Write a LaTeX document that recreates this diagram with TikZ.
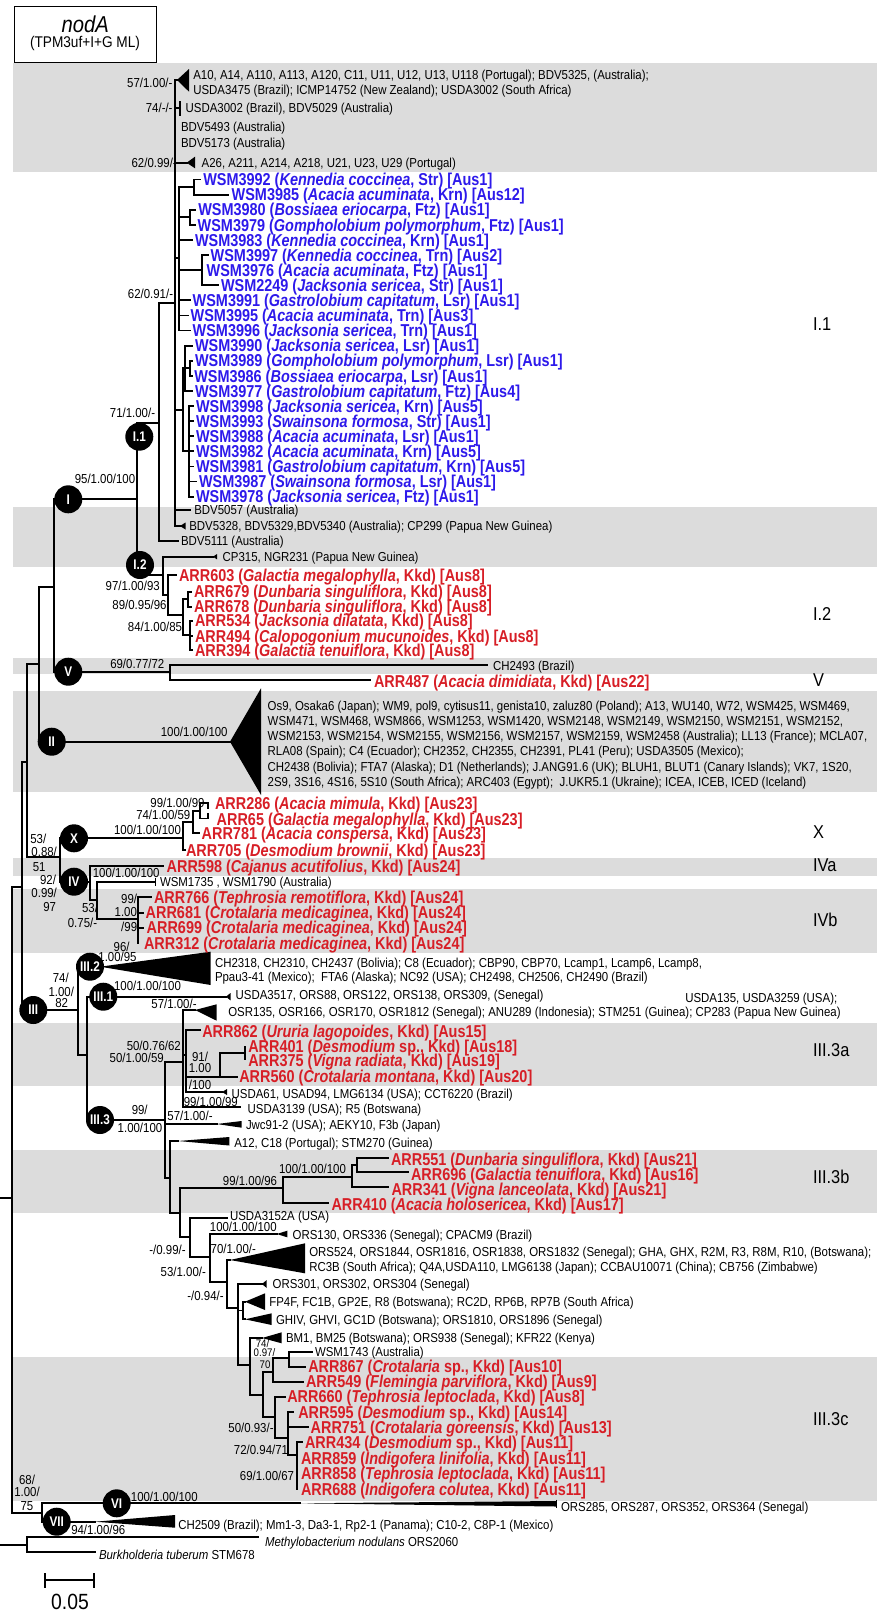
\documentclass[tikz,border=0pt]{standalone}
\usepackage{fontspec}
\setmainfont{Liberation Sans}[FakeStretch=0.88]
\newfontfamily\bfam{Liberation Sans}[FakeStretch=0.84]
\definecolor{bandgray}{RGB}{220,220,220}
\definecolor{tblue}{RGB}{45,25,235}
\definecolor{tred}{RGB}{215,30,38}
\newcounter{nn}
\tikzset{
 br/.style={line width=1.8pt, line cap=rect},
 txt/.style={anchor=base west, inner sep=0pt, outer sep=0pt, font=\fontsize{13}{15}\selectfont},
 btxt/.style={anchor=base west, inner sep=0pt, outer sep=0pt, font=\bfam\bfseries\fontsize{17.2}{15}\selectfont},
 lab/.style={anchor=base, inner sep=0pt, outer sep=0pt, font=\fontsize{13}{15}\selectfont},
 clab/.style={anchor=base west, inner sep=0pt, outer sep=0pt, font=\fontsize{18.6}{20}\selectfont},
 circ/.style={circle, fill=black, minimum size=28pt, inner sep=0pt, text=white, font=\bfam\bfseries\fontsize{14}{14}\selectfont},
}
\newcommand{\Hl}[3]{\draw[br] (#1,#2) -- (#3,#2);}
\newcommand{\Vl}[3]{\draw[br] (#1,#2) -- (#1,#3);}
\newcommand{\Tri}[5]{\fill (#1,#2) -- (#3,#4) -- (#3,#5) -- cycle;}
\newcommand{\Cc}[3]{\stepcounter{nn}\node[circ] (c\thenn) at (#1,#2) {#3};}
\newcommand{\Tx}[3]{\stepcounter{nn}\node[txt] (t\thenn) at (#1,#2+4.6) {#3};}
\newcommand{\Lb}[3]{\stepcounter{nn}\node[lab] (l\thenn) at (#1,#2+4.6) {#3};}
\newcommand{\Bt}[4]{\stepcounter{nn}\node[btxt,text=#1] (b\thenn) at (#2,#3+6.2) {#4};}
\newcommand{\Ws}[6]{\Bt{tblue}{#1}{#2}{WSM#3 (\textit{#4}, #5) [#6]}}
\newcommand{\Ar}[5]{\Bt{tred}{#1}{#2}{ARR#3 (#4, Kkd) [#5]}}
\newcommand{\Cl}[3]{\stepcounter{nn}\node[clab] (k\thenn) at (#1,#2+6.7) {#3};}
\begin{document}
\begin{tikzpicture}[x=1pt,y=-1pt]
\useasboundingbox (0,0) rectangle (877,1614);
% grey bands
\fill[bandgray] (13,63.3) rectangle (877,171.7);
\fill[bandgray] (13,506.7) rectangle (877,566.7);
\fill[bandgray] (13,657.7) rectangle (877,674);
\fill[bandgray] (13,690.7) rectangle (877,791.7);
\fill[bandgray] (13,858.3) rectangle (877,875.7);
\fill[bandgray] (13,889) rectangle (877,952.7);
\fill[bandgray] (13,1022.7) rectangle (877,1085.7);
\fill[bandgray] (13,1150) rectangle (877,1212.7);
\fill[bandgray] (13,1357.3) rectangle (877,1500.7);
% title
\draw[line width=1pt] (14,6) rectangle (156.7,62.7);
\node[inner sep=0pt,font=\itshape\fontsize{23}{23}\selectfont] (ttl) at (85.3,24) {nodA};
\node[inner sep=0pt,font=\fontsize{15.5}{16}\selectfont] (ttl2) at (85,43.5) {(TPM3uf+I+G ML)};
% backbone
\Hl{0}{1198.3}{11.7}
\Vl{11.7}{886.7}{1513}
\Hl{11.7}{886.7}{21.7}
\Vl{21.7}{761.7}{1010}
\Hl{21.7}{761.7}{26.7}
\Vl{26.7}{664}{856.7}
\Hl{26.7}{664}{39.3}
\Vl{39.3}{586.7}{741.7}
\Hl{39.3}{586.7}{54.3}
\Vl{54.3}{499.3}{671.7}
\Hl{54.3}{499.3}{137.3}
\Hl{54.3}{671.7}{170}
\Hl{39.3}{741.7}{230}
\Hl{26.7}{856.7}{60}
\Vl{60}{838.3}{881.7}
\Hl{60}{838.3}{183.3}
\Hl{60}{881.7}{90}
\Hl{21.7}{1010}{78.3}
\Hl{11.7}{1513}{41.7}
\Vl{41.7}{1503.3}{1521.7}
\Hl{41.7}{1503.3}{300}
\Tri{300}{1503.3}{556}{1501}{1506.5}
\draw[line width=1pt] (556,1499.5) -- (556,1508);
\Hl{41.7}{1521.7}{95}
\Tri{95}{1521.7}{175}{1515}{1527.7}
\Hl{0}{1545}{27}
\Vl{27}{1536.7}{1552.3}
\Hl{27}{1536.7}{258.3}
\Hl{27}{1552.3}{95}
% I clade
\Vl{137.3}{422.7}{575}
\Hl{137.3}{422.7}{159.3}
\Vl{159.3}{303.3}{540.7}
\Hl{159.3}{303.3}{175}
\Hl{159.3}{540.7}{178.3}
\Vl{175}{80}{526}
\Hl{175}{80}{178}
\Tri{177}{80}{189}{69}{91.7}
\Hl{175}{108.3}{180}
\draw[line width=1.4pt] (180,101) -- (180,115.5);
\Hl{175}{162.7}{187}
\Tri{186.7}{162.7}{195}{156.7}{168.3}
\Hl{175}{510}{190}
\Hl{175}{526}{180}
\Tri{180}{526}{185.5}{522.5}{529.5}
% blue WSM clade
\Hl{175}{258}{179}
\Vl{179}{187}{330.5}
\Hl{179}{187}{194.3}
\Vl{194.3}{179.5}{194.6}
\Hl{194.3}{179.5}{200}
\Hl{194.3}{194.6}{228.5}
\Hl{179}{217.2}{190}
\Vl{190}{209.7}{224.8}
\Hl{190}{209.7}{195.5}
\Hl{190}{224.8}{195}
\Hl{179}{239.9}{192.5}
\Hl{179}{270}{201.7}
\Vl{201.7}{255}{285.2}
\Hl{201.7}{255}{208}
\Hl{201.7}{285.2}{218.5}
\Hl{179}{300.3}{190}
\Hl{179}{315.4}{188}
\Hl{179}{330.5}{190}
\Hl{175}{410}{182.7}
\Vl{182.7}{368.2}{451.3}
\Hl{182.7}{368.2}{185}
\Vl{185}{345.6}{390.9}
\Hl{185}{345.6}{192.5}
\Hl{185}{368.2}{190}
\Vl{190}{360.7}{375.8}
\Hl{190}{360.7}{192.5}
\Hl{190}{375.8}{192}
\Hl{185}{390.9}{192.5}
\Hl{182.7}{451.3}{189}
\Vl{189}{406}{496.6}
\Hl{189}{406}{193.5}
\Hl{189}{421.1}{193.5}
\Hl{189}{436.2}{193.5}
\Hl{189}{451.3}{193.5}
\Hl{189}{466.4}{193.5}
\Hl{189}{481.5}{196.5}
\Hl{189}{496.6}{193.5}
% I.2 clade
\Hl{137.3}{575}{163.3}
\Vl{163.3}{556.7}{595}
\Hl{163.3}{556.7}{213}
\Tri{213}{556.7}{217}{554}{559.4}
\Hl{163.3}{595}{168.3}
\Vl{168.3}{575}{615}
\Hl{168.3}{575}{176.5}
\Hl{168.3}{615}{183.3}
\Vl{183.3}{599}{635}
\Hl{183.3}{599}{187.7}
\Vl{187.7}{591.7}{606.7}
\Hl{187.7}{591.7}{191.5}
\Hl{187.7}{606.7}{191.5}
\Hl{183.3}{635}{190}
\Vl{190}{620.7}{650}
\Hl{190}{620.7}{192.5}
\Hl{190}{636}{192.5}
\Hl{190}{650}{192.5}
% V
\Vl{170}{665}{680}
\Hl{170}{665}{487}
\Hl{170}{680}{370}
% II
\Tri{230}{741.7}{261}{688.3}{795}
% X clade
\Vl{183.3}{822}{850}
\Hl{183.3}{850}{185}
\Hl{183.3}{822}{193.3}
\Vl{193.3}{810.8}{833.3}
\Hl{193.3}{833.3}{199}
\Hl{193.3}{810.8}{200}
\Vl{200}{803.3}{818.5}
\Hl{200}{803.3}{208.3}
\Vl{208.3}{803.3}{808}
\Hl{200}{818.5}{208.3}
\Vl{208.3}{814}{818.5}
% IV clade
\Vl{90}{866}{900}
\Hl{90}{866}{163.3}
\Hl{90}{900}{96.7}
\Vl{96.7}{881.7}{919.3}
\Hl{96.7}{881.7}{155}
\draw[line width=1pt] (155,878) -- (155,885.5);
\Hl{96.7}{919.3}{138.3}
\Vl{138.3}{897.3}{943.3}
\Hl{138.3}{897.3}{151}
\Hl{138.3}{912.7}{143}
\Hl{138.3}{927.7}{143.5}
% III clade
\Vl{78.3}{966.7}{1055}
\Hl{78.3}{966.7}{100}
\Tri{100}{966.7}{210.7}{951.7}{985}
\Hl{78.3}{1055}{87.3}
\Vl{87.3}{996.7}{1120}
\Hl{87.3}{996.7}{226}
\Tri{226}{996.7}{230.5}{993}{1000.4}
\Hl{87.3}{1120}{165}
\Vl{165}{1061.7}{1177.7}
\Hl{165}{1061.7}{183.3}
\Vl{183.3}{1010}{1106.7}
\Hl{183.3}{1010}{195}
\Tri{195}{1010}{216.7}{1004.3}{1020.7}
\Hl{183.3}{1055}{186}
\Vl{186}{1030}{1092}
\Hl{186}{1030}{200}
\Hl{186}{1076.7}{236.7}
\Vl{220}{1053}{1076.7}
\Hl{220}{1053}{245}
\Vl{245}{1046.7}{1059.3}
\Hl{186}{1092}{222}
\Tri{222}{1092}{227}{1089}{1095}
\Hl{183.3}{1106.7}{240}
\Hl{165}{1124}{216.7}
\Tri{216.7}{1124}{241.7}{1121}{1127.7}
\Hl{165}{1177.7}{170}
\Vl{170}{1141}{1213.3}
\Hl{170}{1141}{178}
\Tri{178}{1141}{229.3}{1137}{1145.5}
\Hl{170}{1213.3}{180}
\Vl{180}{1188.3}{1236.7}
\Hl{180}{1188.3}{283.3}
\Vl{283.3}{1176.7}{1202.7}
\Hl{283.3}{1176.7}{351.7}
\Hl{283.3}{1202.7}{328.3}
\Vl{351.7}{1165}{1187.3}
\Hl{351.7}{1165}{356.7}
\Vl{356.7}{1158.3}{1171.7}
\Hl{356.7}{1158.3}{388.3}
\Hl{356.7}{1171.7}{408.3}
\Hl{351.7}{1187.3}{388.3}
\Hl{180}{1236.7}{190}
\Vl{190}{1217.7}{1256.7}
\Hl{190}{1217.7}{226.7}
\Hl{190}{1256.7}{210}
\Vl{210}{1234}{1281.7}
\Hl{210}{1234}{276.7}
\Tri{276.7}{1234}{287.3}{1230.7}{1237.3}
\Hl{210}{1281.7}{226.7}
\Vl{226.7}{1260}{1308.3}
\Hl{226.7}{1260}{230}
\Tri{230}{1260}{305}{1243.3}{1273.3}
\Hl{226.7}{1308.3}{238.3}
\Vl{238.3}{1284}{1365}
\Hl{238.3}{1284}{262}
\Tri{262}{1284}{266.7}{1280}{1288}
\Hl{238.3}{1310.5}{243.3}
\Vl{243.3}{1301.7}{1319.3}
\Hl{243.3}{1301.7}{245}
\Tri{245}{1301.7}{265}{1293.3}{1310}
\Hl{243.3}{1319.3}{245}
\Tri{245}{1319.3}{271.7}{1313.3}{1325}
\Hl{238.3}{1365}{250}
\Vl{250}{1338}{1395}
\Hl{250}{1338}{262}
\Tri{262}{1338}{281.7}{1332.3}{1343.3}
\Hl{250}{1395}{263.3}
\Vl{263.3}{1371.7}{1416.7}
\Hl{263.3}{1371.7}{273.3}
\Vl{273.3}{1358.3}{1381.7}
\Hl{273.3}{1358.3}{289.3}
\Vl{289.3}{1351.7}{1366.7}
\Hl{289.3}{1351.7}{311.7}
\Hl{289.3}{1366.7}{305}
\Hl{273.3}{1381.7}{303.3}
\Hl{263.3}{1416.7}{275}
\Vl{275}{1396.7}{1438.3}
\Hl{275}{1396.7}{285}
\Hl{275}{1438.3}{288.3}
\Vl{288.3}{1411.7}{1455}
\Hl{288.3}{1411.7}{293.3}
\Hl{288.3}{1426.7}{308.3}
\Hl{288.3}{1455}{296.7}
\Vl{296.7}{1441.7}{1489.3}
\Hl{296.7}{1441.7}{302}
% scale bar
\draw[line width=1.8pt] (45,1580) -- (94.3,1580);
\draw[line width=1.8pt] (45,1573.3) -- (45,1587.7);
\draw[line width=1.8pt] (94.3,1573.3) -- (94.3,1587.7);
\node[anchor=base,inner sep=0pt,font=\fontsize{22}{22}\selectfont] (sc) at (70,1609.5) {0.05};
% circles
\Cc{68.3}{499.3}{I}
\Cc{139.3}{436.7}{I.1}
\Cc{140}{565}{I.2}
\Cc{68.3}{671.7}{V}
\Cc{51.7}{741.7}{II}
\Cc{74}{838.3}{X}
\Cc{74}{881.7}{IV}
\Cc{90}{966.7}{III.2}
\Cc{103.3}{996.7}{III.1}
\Cc{33.3}{1010}{III}
\Cc{100}{1120}{III.3}
\Cc{116.7}{1503.3}{VI}
\Cc{56.7}{1521.7}{VII}
% black texts
\Tx{193.3}{75}{A10, A14, A110, A113, A120, C11, U11, U12, U13, U118 (Portugal); BDV5325, (Australia);}
\Tx{193.3}{90}{USDA3475 (Brazil); ICMP14752 (New Zealand); USDA3002 (South Africa)}
\Tx{185.7}{108.3}{USDA3002 (Brazil), BDV5029 (Australia)}
\Tx{181}{126.7}{BDV5493 (Australia)}
\Tx{181}{142.7}{BDV5173 (Australia)}
\Tx{201.7}{162.7}{A26, A211, A214, A218, U21, U23, U29 (Portugal)}
\Tx{194.3}{510}{BDV5057 (Australia)}
\Tx{189.3}{526}{BDV5328, BDV5329,BDV5340 (Australia); CP299 (Papua New Guinea)}
\Tx{181}{540.7}{BDV5111 (Australia)}
\Tx{222.7}{556.7}{CP315, NGR231 (Papua New Guinea)}
\Tx{493}{666}{CH2493 (Brazil)}
\Tx{267.7}{705.7}{Os9, Osaka6 (Japan); WM9, pol9, cytisus11, genista10, zaluz80 (Poland); A13, WU140, W72, WSM425, WSM469,}
\Tx{267.7}{720.9}{WSM471, WSM468, WSM866, WSM1253, WSM1420, WSM2148, WSM2149, WSM2150, WSM2151, WSM2152,}
\Tx{267.7}{736.1}{WSM2153, WSM2154, WSM2155, WSM2156, WSM2157, WSM2159, WSM2458 (Australia); LL13 (France); MCLA07,}
\Tx{267.7}{751.3}{RLA08 (Spain); C4 (Ecuador); CH2352, CH2355, CH2391, PL41 (Peru); USDA3505 (Mexico);}
\Tx{267.7}{766.5}{CH2438 (Bolivia); FTA7 (Alaska); D1 (Netherlands); J.ANG91.6 (UK); BLUH1, BLUT1 (Canary Islands); VK7, 1S20,}
\Tx{267.7}{781.7}{2S9, 3S16, 4S16, 5S10 (South Africa); ARC403 (Egypt); \ J.UKR5.1 (Ukraine); ICEA, ICEB, ICED (Iceland)}
\Tx{160}{881.7}{WSM1735 , WSM1790 (Australia)}
\Tx{215}{962.7}{CH2318, CH2310, CH2437 (Bolivia); C8 (Ecuador); CBP90, CBP70, Lcamp1, Lcamp6, Lcamp8,}
\Tx{215}{976.7}{Ppau3-41 (Mexico); \ FTA6 (Alaska); NC92 (USA); CH2498, CH2506, CH2490 (Brazil)}
\Tx{235.7}{995}{USDA3517, ORS88, ORS122, ORS138, ORS309, (Senegal)}
\Tx{685.3}{998.3}{USDA135, USDA3259 (USA);}
\Tx{228.3}{1011.5}{OSR135, OSR166, OSR170, OSR1812 (Senegal); ANU289 (Indonesia); STM251 (Guinea); CP283 (Papua New Guinea)}
\Tx{231.7}{1094}{USDA61, USAD94, LMG6134 (USA); CCT6220 (Brazil)}
\Tx{247.7}{1109}{USDA3139 (USA); R5 (Botswana)}
\Tx{246}{1125}{Jwc91-2 (USA); AEKY10, F3b (Japan)}
\Tx{234.3}{1143.3}{A12, C18 (Portugal); STM270 (Guinea)}
\Tx{230}{1216}{USDA3152A (USA)}
\Tx{292.7}{1235}{ORS130, ORS336 (Senegal); CPACM9 (Brazil)}
\Tx{309.3}{1252.3}{ORS524, ORS1844, OSR1816, OSR1838, ORS1832 (Senegal); GHA, GHX, R2M, R3, R8M, R10, (Botswana);}
\Tx{309.3}{1266.7}{RC3B (South Africa); Q4A,USDA110, LMG6138 (Japan); CCBAU10071 (China); CB756 (Zimbabwe)}
\Tx{272.7}{1284}{ORS301, ORS302, ORS304 (Senegal)}
\Tx{269.3}{1302.3}{FP4F, FC1B, GP2E, R8 (Botswana); RC2D, RP6B, RP7B (South Africa)}
\Tx{276}{1320}{GHIV, GHVI, GC1D (Botswana); ORS1810, ORS1896 (Senegal)}
\Tx{286}{1337.7}{BM1, BM25 (Botswana); ORS938 (Senegal); KFR22 (Kenya)}
\Tx{315}{1351.7}{WSM1743 (Australia)}
\Tx{561}{1506.7}{ORS285, ORS287, ORS352, ORS364 (Senegal)}
\Tx{178.3}{1525}{CH2509 (Brazil); Mm1-3, Da3-1, Rp2-1 (Panama); C10-2, C8P-1 (Mexico)}
\Tx{265}{1541.7}{\textit{Methylobacterium nodulans} ORS2060}
\Tx{99}{1555}{\textit{Burkholderia tuberum} STM678}
% blue texts
\Ws{203.3}{179.5}{3992}{Kennedia coccinea}{Str}{Aus1}
\Ws{231.7}{194.6}{3985}{Acacia acuminata}{Krn}{Aus12}
\Ws{198.3}{209.7}{3980}{Bossiaea eriocarpa}{Ftz}{Aus1}
\Ws{197.7}{224.8}{3979}{Gompholobium polymorphum}{Ftz}{Aus1}
\Ws{195}{239.9}{3983}{Kennedia coccinea}{Krn}{Aus1}
\Ws{210.7}{255}{3997}{Kennedia coccinea}{Trn}{Aus2}
\Ws{206.7}{270.1}{3976}{Acacia acuminata}{Ftz}{Aus1}
\Ws{221}{285.2}{2249}{Jacksonia sericea}{Str}{Aus1}
\Ws{192.7}{300.3}{3991}{Gastrolobium capitatum}{Lsr}{Aus1}
\Ws{190.7}{315.4}{3995}{Acacia acuminata}{Trn}{Aus3}
\Ws{192.7}{330.5}{3996}{Jacksonia sericea}{Trn}{Aus1}
\Ws{195}{345.6}{3990}{Jacksonia sericea}{Lsr}{Aus1}
\Ws{195}{360.7}{3989}{Gompholobium polymorphum}{Lsr}{Aus1}
\Ws{194.3}{375.8}{3986}{Bossiaea eriocarpa}{Lsr}{Aus1}
\Ws{195}{390.9}{3977}{Gastrolobium capitatum}{Ftz}{Aus4}
\Ws{196}{406}{3998}{Jacksonia sericea}{Krn}{Aus5}
\Ws{196}{421.1}{3993}{Swainsona formosa}{Str}{Aus1}
\Ws{196}{436.2}{3988}{Acacia acuminata}{Lsr}{Aus1}
\Ws{196}{451.3}{3982}{Acacia acuminata}{Krn}{Aus5}
\Ws{196}{466.4}{3981}{Gastrolobium capitatum}{Krn}{Aus5}
\Ws{199}{481.5}{3987}{Swainsona formosa}{Lsr}{Aus1}
\Ws{196}{496.6}{3978}{Jacksonia sericea}{Ftz}{Aus1}
% red texts
\Ar{179}{575}{603}{\textit{Galactia megalophylla}}{Aus8}
\Ar{194}{591.7}{679}{\textit{Dunbaria singuliflora}}{Aus8}
\Ar{194}{606.7}{678}{\textit{Dunbaria singuliflora}}{Aus8}
\Ar{195}{620.7}{534}{\textit{Jacksonia dilatata}}{Aus8}
\Ar{195}{636}{494}{\textit{Calopogonium mucunoides}}{Aus8}
\Ar{195}{650}{394}{\textit{Galactia tenuiflora}}{Aus8}
\Ar{374}{681.7}{487}{\textit{Acacia dimidiata}}{Aus22}
\Ar{215}{803.3}{286}{\textit{Acacia mimula}}{Aus23}
\Ar{216.7}{819}{65}{\textit{Galactia megalophylla}}{Aus23}
\Ar{201.7}{833.3}{781}{\textit{Acacia conspersa}}{Aus23}
\Ar{186}{850}{705}{\textit{Desmodium brownii}}{Aus23}
\Ar{166.7}{866.7}{598}{\textit{Cajanus acutifolius}}{Aus24}
\Ar{154}{897.3}{766}{\textit{Tephrosia remotiflora}}{Aus24}
\Ar{145.7}{912.7}{681}{\textit{Crotalaria medicaginea}}{Aus24}
\Ar{146.7}{927.7}{699}{\textit{Crotalaria medicaginea}}{Aus24}
\Ar{144}{943.3}{312}{\textit{Crotalaria medicaginea}}{Aus24}
\Ar{202.3}{1031}{862}{\textit{Ururia lagopoides}}{Aus15}
\Ar{248.3}{1046.5}{401}{\textit{Desmodium} sp.}{Aus18}
\Ar{248.3}{1060.3}{375}{\textit{Vigna radiata}}{Aus19}
\Ar{239.3}{1076.5}{560}{\textit{Crotalaria montana}}{Aus20}
\Ar{391}{1159.5}{551}{\textit{Dunbaria singuliflora}}{Aus21}
\Ar{411}{1174.5}{696}{\textit{Galactia tenuiflora}}{Aus16}
\Ar{391.5}{1189.5}{341}{\textit{Vigna lanceolata}}{Aus21}
\Ar{331.5}{1204.5}{410}{\textit{Acacia holosericea}}{Aus17}
\Ar{308.3}{1366.7}{867}{\textit{Crotalaria} sp.}{Aus10}
\Ar{306}{1381.5}{549}{\textit{Flemingia parviflora}}{Aus9}
\Ar{287.3}{1396.5}{660}{\textit{Tephrosia leptoclada}}{Aus8}
\Ar{298.3}{1412}{595}{\textit{Desmodium} sp.}{Aus14}
\Ar{310.7}{1427}{751}{\textit{Crotalaria goreensis}}{Aus13}
\Ar{305}{1442.3}{434}{\textit{Desmodium} sp.}{Aus11}
\Ar{301}{1458.3}{859}{\textit{Indigofera linifolia}}{Aus11}
\Ar{301}{1473.3}{858}{\textit{Tephrosia leptoclada}}{Aus11}
\Ar{301}{1489.3}{688}{\textit{Indigofera colutea}}{Aus11}
% support labels
\Lb{149.8}{82.7}{57/1.00/-}
\Lb{159.2}{108.3}{74/-/-}
\Lb{154.2}{162.7}{62/0.99/-}
\Lb{150.5}{294}{62/0.91/-}
\Lb{132.5}{413.3}{71/1.00/-}
\Lb{105}{479.3}{95/1.00/100}
\Lb{132.7}{586}{97/1.00/93}
\Lb{139.5}{605}{89/0.95/96}
\Lb{155}{626.7}{84/1.00/85}
\Lb{137.3}{664.3}{69/0.77/72}
\Lb{194.2}{732.3}{100/1.00/100}
\Lb{177.5}{803.3}{99/1.00/99}
\Lb{163.3}{815}{74/1.00/59}
\Lb{147.5}{830}{100/1.00/100}
\Lb{38.3}{839.3}{53/}
\Lb{44.2}{851.7}{0.88/}
\Lb{39.2}{867.3}{51}
\Lb{126.2}{872.7}{100/1.00/100}
\Lb{48}{880}{92/}
\Lb{44.2}{893.3}{0.99/}
\Lb{49.7}{906.7}{97}
\Lb{129.2}{899.3}{99/}
\Lb{125.8}{912.3}{1.00}
\Lb{129.2}{927.3}{/99}
\Lb{90}{908.3}{53/}
\Lb{82.5}{922.7}{0.75/-}
\Lb{121.7}{946.7}{96/}
\Lb{117.5}{956.7}{1.00/95}
\Lb{60.8}{978.3}{74/}
\Lb{61.3}{991.7}{1.00/}
\Lb{61.7}{1003.3}{82}
\Lb{147.5}{985.7}{100/1.00/100}
\Lb{174}{1004.3}{57/1.00/-}
\Lb{153.8}{1046}{50/0.76/62}
\Lb{136.7}{1058.3}{50/1.00/59}
\Lb{200}{1056.7}{91/}
\Lb{200}{1068.3}{1.00}
\Lb{200}{1085}{/100}
\Lb{210.8}{1101.7}{99/1.00/99}
\Lb{139.7}{1110}{99/}
\Lb{140}{1128.3}{1.00/100}
\Lb{190}{1116}{57/1.00/-}
\Lb{250}{1180.7}{99/1.00/96}
\Lb{312.5}{1169.3}{100/1.00/100}
\Lb{243.3}{1226.7}{100/1.00/100}
\Lb{167.5}{1250}{-/0.99/-}
\Lb{233.3}{1249}{70/1.00/-}
\Lb{183.3}{1271.7}{53/1.00/-}
\Lb{205.5}{1296}{-/0.94/-}
\node[lab,font=\fontsize{11}{11}\selectfont] (l74a) at (262.5,1347) {74/};
\node[lab,font=\fontsize{11}{11}\selectfont] (l74b) at (264.5,1356.5) {0.97/};
\node[lab,font=\fontsize{11}{11}\selectfont] (l74c) at (265,1368) {70};
\Lb{251}{1428.3}{50/0.93/-}
\Lb{261}{1450}{72/0.94/71}
\Lb{267}{1475.7}{69/1.00/67}
\Lb{27}{1480}{68/}
\Lb{27}{1491.7}{1.00/}
\Lb{27}{1505.7}{75}
\Lb{164.3}{1496.7}{100/1.00/100}
\Lb{98.3}{1530}{94/1.00/96}
% clade labels
\Cl{813}{323.3}{I.1}
\Cl{813}{614}{I.2}
\Cl{813}{680}{V}
\Cl{813}{831.7}{X}
\Cl{813}{865}{IVa}
\Cl{813}{920}{IVb}
\Cl{813}{1050}{III.3a}
\Cl{813}{1176.7}{III.3b}
\Cl{813}{1418.3}{III.3c}
\end{tikzpicture}
\end{document}
